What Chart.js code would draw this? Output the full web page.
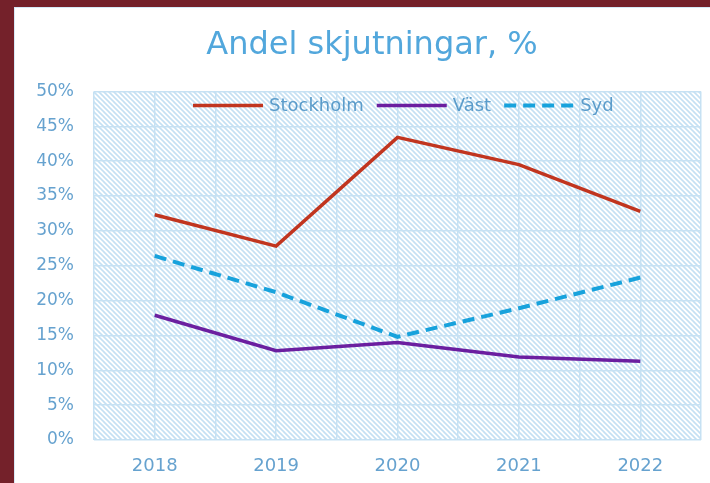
<!DOCTYPE html>
<html lang="sv">
<head>
  <meta charset="UTF-8" />
  <title>Andel skjutningar</title>
  <script src="https://cdn.jsdelivr.net/npm/chart.js"></script>
  <style>
    * { margin: 0; padding: 0; box-sizing: border-box; }
    html, body {
      width: 710px;
      height: 483px;
      overflow: hidden;
      background: #74212a;
    }
    .panel {
      position: absolute;
      left: 14px;
      top: 7px;
      width: 716px;
      height: 476px;
      background: #fff;
      box-shadow: inset 1px 1px 0 #d6e9f6;
    }
  </style>
</head>
<body>
  <div class="panel">
    <canvas id="chart" width="716" height="476"></canvas>
  </div>

  <script>
    // data
    const years = ['2018', '2019', '2020', '2021', '2022'];
    const stockholm = [32.3, 27.8, 43.4, 39.5, 32.8];
    const vast = [17.9, 12.8, 14.0, 11.9, 11.3];
    const syd = [26.4, 21.2, 14.8, 18.9, 23.3];
    const yTicks = [0, 5, 10, 15, 20, 25, 30, 35, 40, 45, 50];

    const textBlue = '#66a2cf';
    const gridBlue = '#c6e1f3';

    // diagonal hatch for the plot area
    function makeHatch() {
      const s = 5;
      const c = document.createElement('canvas');
      c.width = s; c.height = s;
      const g = c.getContext('2d');
      g.fillStyle = '#fff';
      g.fillRect(0, 0, s, s);
      g.strokeStyle = '#c4e0f3';
      g.lineWidth = 1.6;
      for (let k = -1; k <= 1; k++) {
        g.beginPath();
        g.moveTo(-1, -1 + k * s);
        g.lineTo(s + 1, s + 1 + k * s);
        g.stroke();
      }
      return g.createPattern(c, 'repeat');
    }

    const plotBackground = {
      id: 'plotBackground',
      beforeDraw(chart) {
        const { ctx, chartArea: a } = chart;
        ctx.save();
        ctx.fillStyle = makeHatch();
        ctx.fillRect(a.left, a.top, a.right - a.left, a.bottom - a.top);
        ctx.restore();
      }
    };

    // legend sits inside the plot area, so draw it here
    const innerLegend = {
      id: 'innerLegend',
      afterDraw(chart) {
        const { ctx, chartArea: a } = chart;
        const y = a.top + 14;
        let x = a.left + 99;
        ctx.save();
        ctx.font = '18px "DejaVu Sans"';
        ctx.textBaseline = 'middle';
        chart.data.datasets.forEach((ds) => {
          ctx.strokeStyle = ds.borderColor;
          ctx.lineWidth = ds.borderWidth;
          ctx.setLineDash(ds.borderDash || []);
          ctx.beginPath();
          ctx.moveTo(x, y);
          ctx.lineTo(x + 70, y);
          ctx.stroke();
          ctx.setLineDash([]);
          x += 76;
          ctx.fillStyle = '#5b9cca';
          ctx.fillText(ds.label, x, y + 1);
          x += ctx.measureText(ds.label).width + 13;
        });
        ctx.restore();
      }
    };

    new Chart(document.getElementById('chart'), {
      type: 'line',
      data: {
        labels: years,
        datasets: [
          { label: 'Stockholm', data: stockholm, borderColor: '#c1351f', borderWidth: 3.5, xAxisID: 'x', yAxisID: 'y' },
          { label: 'Väst', data: vast, borderColor: '#6b1fa0', borderWidth: 3.5, xAxisID: 'x', yAxisID: 'y' },
          { label: 'Syd', data: syd, borderColor: '#17a2dc', borderWidth: 4, borderDash: [12, 7], xAxisID: 'x', yAxisID: 'y' }
        ]
      },
      options: {
        responsive: false,
        animation: false,
        layout: { padding: 0 },
        elements: {
          line: { tension: 0, fill: false },
          point: { radius: 0 }
        },
        plugins: {
          legend: { display: false },
          tooltip: { enabled: false },
          title: {
            display: true,
            text: 'Andel skjutningar, %',
            color: '#52a7dc',
            font: { family: 'DejaVu Sans', size: 32, weight: 'normal' },
            padding: { top: 19, bottom: 27 }
          }
        },
        scales: {
          x: {
            type: 'category',
            offset: true,
            afterFit(scale) { scale.height = 43; },
            grid: { display: false, drawTicks: false },
            border: { display: false },
            ticks: {
              color: textBlue,
              padding: 16,
              font: { family: 'DejaVu Sans', size: 18 }
            }
          },
          xGrid: {
            type: 'linear',
            position: 'bottom',
            min: -0.5,
            max: years.length - 0.5,
            afterFit(scale) { scale.height = 0; },
            grid: { color: gridBlue, lineWidth: 1.5, drawTicks: false },
            border: { display: false },
            ticks: { display: false, stepSize: 0.5 }
          },
          y: {
            min: yTicks[0],
            max: yTicks[yTicks.length - 1],
            afterBuildTicks(scale) {
              scale.ticks = yTicks.map((v) => ({ value: v }));
            },
            afterFit(scale) { scale.width = 80; },
            grid: { color: gridBlue, lineWidth: 1.5, drawTicks: false },
            border: { display: false },
            ticks: {
              color: textBlue,
              padding: 20,
              font: { family: 'DejaVu Sans', size: 17 },
              callback: (v) => v + '%'
            }
          },
          // empty right-hand strip so the title sits where it does in the original
          yPad: {
            type: 'linear',
            position: 'right',
            afterFit(scale) { scale.width = 29; },
            grid: { display: false, drawTicks: false },
            border: { display: false },
            ticks: { display: false }
          }
        }
      },
      plugins: [plotBackground, innerLegend]
    });
  </script>
</body>
</html>
